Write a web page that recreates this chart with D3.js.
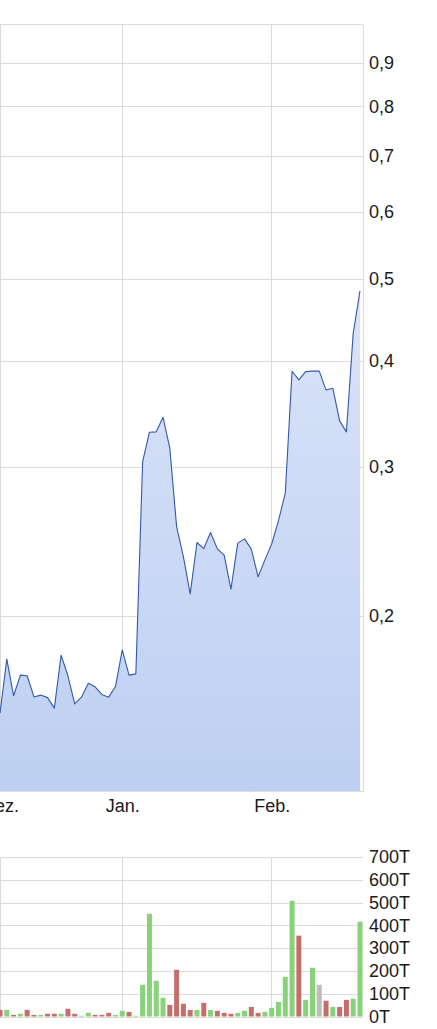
<!DOCTYPE html>
<html>
<head>
<meta charset="utf-8">
<script src="https://cdn.jsdelivr.net/npm/d3@7"></script>
<style>
  body { margin: 0; background: #fff; }
  svg { display: block; font-family: "Liberation Sans", Arial, sans-serif; }
  .grid line { stroke: #dcdcdc; stroke-width: 1; shape-rendering: crispEdges; }
  .lbl { font-size: 18px; fill: #1a1a1a; }
</style>
</head>
<body>
<div id="chart"></div>
<script>
// Trading days shown (Dec 2023 - Feb 2024)
const dates = [
  "2023-12-04","2023-12-05","2023-12-06","2023-12-07","2023-12-08",
  "2023-12-11","2023-12-12","2023-12-13","2023-12-14","2023-12-15",
  "2023-12-18","2023-12-19","2023-12-20","2023-12-21","2023-12-22",
  "2023-12-27","2023-12-28","2023-12-29",
  "2024-01-02","2024-01-03","2024-01-04","2024-01-05",
  "2024-01-08","2024-01-09","2024-01-10","2024-01-11","2024-01-12",
  "2024-01-15","2024-01-16","2024-01-17","2024-01-18","2024-01-19",
  "2024-01-22","2024-01-23","2024-01-24","2024-01-25","2024-01-26",
  "2024-01-29","2024-01-30","2024-01-31",
  "2024-02-01","2024-02-02",
  "2024-02-05","2024-02-06","2024-02-07","2024-02-08","2024-02-09",
  "2024-02-12","2024-02-13","2024-02-14","2024-02-15","2024-02-16",
  "2024-02-19","2024-02-20"
];
const prices = [
  0.1535, 0.1778, 0.1609, 0.1702, 0.1699, 0.1604, 0.1612, 0.1601, 0.1556, 0.1797,
  0.1699, 0.1574, 0.1603, 0.1665, 0.1649, 0.1615, 0.1603, 0.1650, 0.1823, 0.1702,
  0.1708, 0.3044, 0.3297, 0.3300, 0.3434, 0.3157, 0.2550, 0.2350, 0.2123, 0.2442,
  0.2402, 0.2509, 0.2400, 0.2359, 0.2151, 0.2438, 0.2466, 0.2398, 0.2224, 0.2329,
  0.2433, 0.2592, 0.2793, 0.3892, 0.3801, 0.3888, 0.3893, 0.3893, 0.3699, 0.3716,
  0.3400, 0.3300, 0.4316, 0.4843
];
const volumes = [
  29000, 29000, 7000, 12000, 29000, 7000, 7000, 12000, 12000, 12000,
  34000, 12000, 3000, 16000, 7000, 7000, 16000, 7000, 25000, 20000,
  3000, 139000, 451000, 157000, 82000, 51000, 205000, 56000, 29000, 29000,
  60000, 29000, 25000, 16000, 12000, 16000, 25000, 42000, 16000, 20000,
  38000, 64000, 174000, 508000, 355000, 73000, 214000, 139000, 69000, 42000,
  42000, 73000, 78000, 416000
];
// u = up, d = down, n = unchanged
const volumeDir = [
  "d","u","d","u","d","d","u","d","d","u",
  "d","d","u","u","d","d","d","u","u","d",
  "u","u","u","u","u","d","d","d","d","u",
  "d","u","d","d","d","u","u","d","d","u",
  "u","u","u","u","d","u","u","n","d","u",
  "d","d","u","u"
];
const priceTicks = [0.2, 0.3, 0.4, 0.5, 0.6, 0.7, 0.8, 0.9];
const volumeTicks = [0, 100000, 200000, 300000, 400000, 500000, 600000, 700000];
const monthNames = ["Jan.", "Feb.", "März", "Apr.", "Mai", "Juni", "Juli", "Aug.", "Sep.", "Okt.", "Nov.", "Dez."];

const data = dates.map((d, i) => ({
  date: d, price: prices[i], volume: volumes[i], dir: volumeDir[i]
}));

// Dimensions
const width = 437, height = 1029;
const plotRight = 363;
const price = { top: 24.5, bottom: 791.5 };
const vol = { top: 857, bottom: 1016.5 };

const svg = d3.select("#chart").append("svg")
  .attr("width", width).attr("height", height);

// Scales
const xScale = d3.scalePoint().domain(dates).range([0, 360]);
const yScale = d3.scaleLog().domain([0.124, 1.0]).range([price.bottom, price.top]);
const vScale = d3.scaleLinear().domain([0, 700000]).range([vol.bottom, vol.top]);

// month ticks: first trading day of each month
const monthTicks = dates.filter((d, i) => i === 0 || d.slice(5, 7) !== dates[i - 1].slice(5, 7));
const monthLabel = (d) => monthNames[+d.slice(5, 7) - 1];

const locale = d3.formatLocale({ decimal: ",", thousands: ".", grouping: [3], currency: ["", "€"] });
const priceFormat = locale.format(".1f");
const volFormat = (v) => `${v / 1000}T`;

// Gradient for the area
const defs = svg.append("defs");
const grad = defs.append("linearGradient")
  .attr("id", "area-grad")
  .attr("gradientUnits", "userSpaceOnUse")
  .attr("x1", 0).attr("x2", 0)
  .attr("y1", price.top).attr("y2", price.bottom);
grad.append("stop").attr("offset", "0%").attr("stop-color", "#e9effc");
grad.append("stop").attr("offset", "100%").attr("stop-color", "#bdcff2");

// Price panel grid
const pGrid = svg.append("g").attr("class", "grid");
pGrid.selectAll(".h").data(priceTicks).join("line")
  .attr("x1", 0).attr("x2", plotRight)
  .attr("y1", (d) => Math.round(yScale(d)) + 0.5)
  .attr("y2", (d) => Math.round(yScale(d)) + 0.5);
pGrid.selectAll(".v").data(monthTicks).join("line")
  .attr("class", "v")
  .attr("x1", (d) => xScale(d)).attr("x2", (d) => xScale(d))
  .attr("y1", price.top).attr("y2", price.bottom);

// Area + line
const area = d3.area()
  .x((d) => xScale(d.date))
  .y0(price.bottom)
  .y1((d) => yScale(d.price));
const line = d3.line()
  .x((d) => xScale(d.date))
  .y((d) => yScale(d.price));

svg.append("path").attr("d", area(data)).attr("fill", "url(#area-grad)");
svg.append("path").attr("d", line(data))
  .attr("fill", "none").attr("stroke", "#3459a9").attr("stroke-width", 1.1)
  .attr("stroke-linejoin", "round");

// Frame of price panel
const frame = svg.append("g").attr("class", "grid");
frame.append("line").attr("x1", 0).attr("x2", plotRight).attr("y1", price.top).attr("y2", price.top);
frame.append("line").attr("x1", 0).attr("x2", plotRight).attr("y1", price.bottom).attr("y2", price.bottom);
frame.append("line").attr("x1", plotRight).attr("x2", plotRight).attr("y1", price.top).attr("y2", price.bottom);

// Price axis (right)
const yAxis = d3.axisRight(yScale).tickValues(priceTicks).tickFormat(priceFormat).tickSize(0).tickPadding(6);
svg.append("g")
  .attr("transform", `translate(${plotRight},0)`)
  .call(yAxis)
  .call((g) => g.select(".domain").remove())
  .call((g) => g.selectAll("text").attr("class", "lbl").attr("font-family", null).attr("font-size", null).attr("fill", null));

// Month axis (bottom)
const xAxis = d3.axisBottom(xScale).tickValues(monthTicks).tickFormat(monthLabel).tickSize(0).tickPadding(8);
svg.append("g")
  .attr("transform", `translate(0,${price.bottom})`)
  .call(xAxis)
  .call((g) => g.select(".domain").remove())
  .call((g) => g.selectAll("text").attr("class", "lbl").attr("font-family", null).attr("font-size", null).attr("fill", null));

// Volume panel grid
const vGrid = svg.append("g").attr("class", "grid");
vGrid.selectAll(".h").data(volumeTicks).join("line")
  .attr("x1", 0).attr("x2", plotRight)
  .attr("y1", (d) => Math.round(vScale(d)) + 0.5)
  .attr("y2", (d) => Math.round(vScale(d)) + 0.5);
vGrid.selectAll(".v").data(monthTicks).join("line")
  .attr("class", "v")
  .attr("x1", (d) => xScale(d)).attr("x2", (d) => xScale(d))
  .attr("y1", vol.top).attr("y2", vol.bottom);

// Volume bars
const barColor = { u: "#88d27a", d: "#c66e6b", n: "#bdbdbd" };
const barW = 5;
svg.append("g").selectAll("rect").data(data).join("rect")
  .attr("x", (d) => xScale(d.date) - barW / 2)
  .attr("y", (d) => vScale(d.volume))
  .attr("width", barW)
  .attr("height", (d) => vol.bottom - vScale(d.volume))
  .attr("fill", (d) => barColor[d.dir]);

// Volume axis (right)
const vAxis = d3.axisRight(vScale).tickValues(volumeTicks).tickFormat(volFormat).tickSize(0).tickPadding(6);
svg.append("g")
  .attr("transform", `translate(${plotRight},0)`)
  .call(vAxis)
  .call((g) => g.select(".domain").remove())
  .call((g) => g.selectAll("text").attr("class", "lbl").attr("font-family", null).attr("font-size", null).attr("fill", null));
</script>
</body>
</html>
